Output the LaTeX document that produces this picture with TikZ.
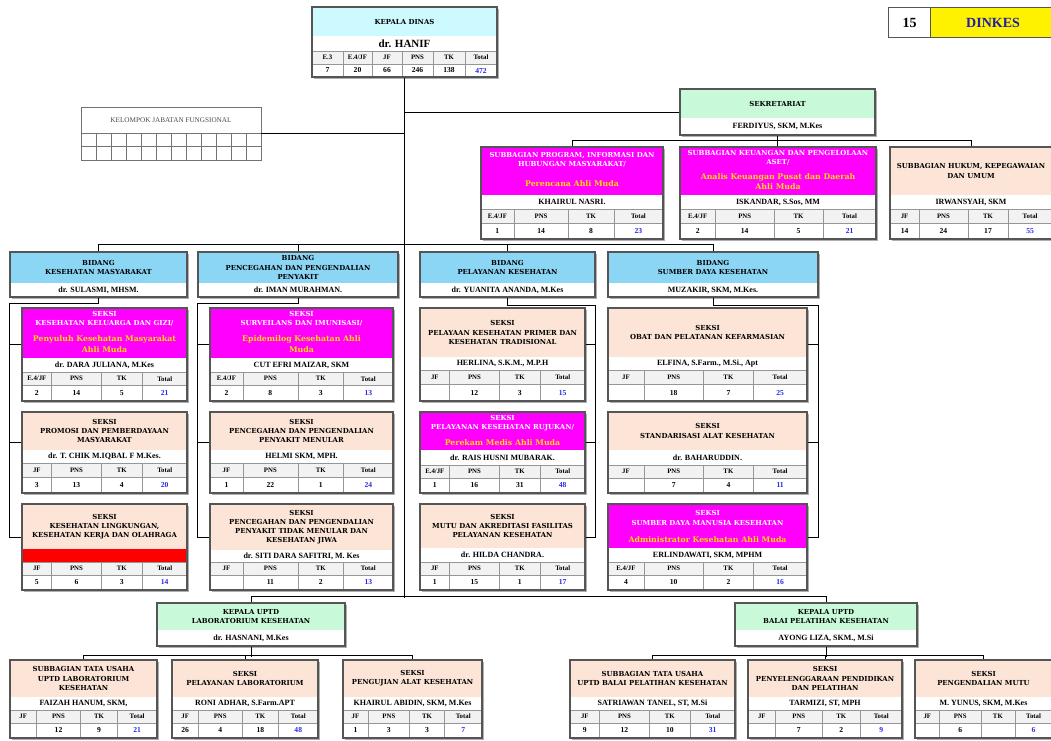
\documentclass[tikz,border=0pt]{standalone}
\usepackage{fontspec}
\newfontfamily\tf{DejaVu Serif}
\newfontfamily\nf{Liberation Serif}
\usetikzlibrary{fit}
\definecolor{mag}{RGB}{255,0,255}
\definecolor{peach}{RGB}{252,228,214}
\definecolor{bidblue}{RGB}{140,214,245}
\definecolor{kdcyan}{RGB}{204,250,255}
\definecolor{mint}{RGB}{200,250,218}
\definecolor{ylw}{RGB}{255,221,0}
\definecolor{numblue}{RGB}{40,40,235}
\definecolor{dkblue}{RGB}{30,30,170}
\definecolor{frm}{RGB}{85,85,85}
\definecolor{innr}{RGB}{150,150,150}
\definecolor{hdrc}{RGB}{242,242,242}
\definecolor{shadowc}{RGB}{175,175,175}
\newcounter{nn}
\tikzset{
 frame/.style={draw=frm, line width=1.1pt, inner sep=0pt, rectangle},
 inner/.style={draw=innr, line width=0.5pt},
 conn/.style={draw=black, line width=0.7pt},
 tt/.style={font=\tf\bfseries\fontsize{6.9}{9.2}\selectfont, align=center, inner sep=0pt},
 wt/.style={tt, text=white},
 yt/.style={font=\tf\bfseries\fontsize{7.8}{10.5}\selectfont, text=ylw, align=center, inner sep=0pt},
 nm/.style={font=\nf\bfseries\fontsize{8}{9}\selectfont, inner sep=0pt},
 th/.style={font=\nf\bfseries\fontsize{6.8}{7.5}\selectfont, inner sep=0pt},
 tv/.style={font=\nf\bfseries\fontsize{7.6}{8.5}\selectfont, inner sep=0pt},
}
\newcommand{\cell}[4]{\stepcounter{nn}\node[#3] (t\arabic{nn}) at ({#1},{#2}) {#4};}
\newcommand{\band}[5]{%
 \fill[#3] (\bxl,#1) rectangle (\bxr,#2);
 \draw[inner] (\bxl,#2) -- (\bxr,#2);
 \stepcounter{nn}%
 \node[#4] (t\arabic{nn}) at ({(\bxl+\bxr)/2},{(#1+#2)/2}) {#5};}
\newcommand{\tfour}[7]{%
 \pgfmathsetmacro\qYb{#1+0.46*(#2-#1)}%
 \pgfmathsetmacro\qW{\bxr-\bxl}%
 \pgfmathsetmacro\qXa{\bxl+0.18*\qW}%
 \pgfmathsetmacro\qXb{\bxl+0.48*\qW}%
 \pgfmathsetmacro\qXc{\bxl+0.73*\qW}%
 \pgfmathsetmacro\qHa{(#1+\qYb)/2}%
 \pgfmathsetmacro\qHb{(\qYb+#2)/2}%
 \fill[hdrc] (\bxl,#1) rectangle (\bxr,\qYb);
 \draw[inner] (\bxl,#1) -- (\bxr,#1) (\bxl,\qYb) -- (\bxr,\qYb) (\qXa,#1) -- (\qXa,#2) (\qXb,#1) -- (\qXb,#2) (\qXc,#1) -- (\qXc,#2);
 \cell{(\bxl+\qXa)/2}{\qHa}{th}{#3}%
 \cell{(\qXa+\qXb)/2}{\qHa}{th}{PNS}%
 \cell{(\qXb+\qXc)/2}{\qHa}{th}{TK}%
 \cell{(\qXc+\bxr)/2}{\qHa}{th}{Total}%
 \cell{(\bxl+\qXa)/2}{\qHb}{tv}{#4}%
 \cell{(\qXa+\qXb)/2}{\qHb}{tv}{#5}%
 \cell{(\qXb+\qXc)/2}{\qHb}{tv}{#6}%
 \cell{(\qXc+\bxr)/2}{\qHb}{tv,text=numblue}{#7}}
\newcommand{\bx}[6]{%
 \def\bxl{#2}\def\bxr{#4}%
 \fill[shadowc] ({#2+2},{#3+2}) rectangle ({#4+2},{#5+2});
 \fill[white] (#2,#3) rectangle (#4,#5);
 #6
 \node[frame, fit={(#2,#3) (#4,#5)}] (#1) {};}
\begin{document}
\begin{tikzpicture}[x=1pt,y=-1pt]
\clip (0,0) rectangle (1051,740);
\fill[white] (0,0) rectangle (1051,740);
% ---------- Kepala Dinas
\bx{kd}{312}{7}{497}{77}{%
 \band{7}{36}{kdcyan}{tt}{KEPALA DINAS}
 \band{36}{51}{white}{nm,font=\nf\bfseries\fontsize{11}{12}\selectfont}{dr. HANIF}
 \fill[hdrc] (312,51) rectangle (497,64);
 \draw[inner] (312,51) -- (497,51) (312,64) -- (497,64);
 \foreach \xx in {343,372,402,433,465} {\draw[inner] (\xx,51) -- (\xx,77);}
 \cell{327.5}{57.5}{th}{E.3}\cell{357.5}{57.5}{th}{E.4/JF}\cell{387}{57.5}{th}{JF}
 \cell{417.5}{57.5}{th}{PNS}\cell{449}{57.5}{th}{TK}\cell{481}{57.5}{th}{Total}
 \cell{327.5}{70.5}{tv}{7}\cell{357.5}{70.5}{tv}{20}\cell{387}{70.5}{tv}{66}
 \cell{417.5}{70.5}{tv}{246}\cell{449}{70.5}{tv}{138}\cell{481}{70.5}{tv,text=numblue}{472}
}
% ---------- 15 DINKES
\node[frame, fill=white, minimum width=42pt, minimum height=30pt, anchor=north west, font=\nf\bfseries\fontsize{14}{16}\selectfont] (num) at (888,7) {15};
\node[frame, fill=yellow, minimum width=125pt, minimum height=30pt, anchor=north west, text=dkblue, font=\nf\bfseries\fontsize{14}{16}\selectfont] (dk) at (930,7) {DINKES};
% ---------- Kelompok jabatan fungsional
\node[draw=black!55, line width=0.6pt, inner sep=0pt, fit={(81,107) (261,160)}] (kjf) {};
\node[font=\nf\fontsize{7.2}{8}\selectfont, text=black!70, inner sep=0pt] (kjft) at (171,120) {KELOMPOK JABATAN FUNGSIONAL};
\draw[draw=black!55, line width=0.5pt] (81,133) -- (261,133) (81,146.5) -- (261,146.5);
\foreach \i in {1,...,11} {\draw[draw=black!55, line width=0.5pt] ({81+15*\i},133) -- ({81+15*\i},160);}
% ---------- Sekretariat
\bx{sek}{680}{89}{875}{135}{%
 \band{89}{118}{mint}{tt}{SEKRETARIAT}
 \band{118}{135}{white}{nm}{FERDIYUS, SKM, M.Kes}}
\bx{sb1}{481}{147}{663}{239}{%
 \band{147}{172}{mag}{wt}{SUBBAGIAN PROGRAM, INFORMASI DAN\\HUBUNGAN MASYARAKAT/}
 \band{172}{195}{mag}{yt}{Perencana Ahli Muda}
 \band{195}{209}{white}{nm}{KHAIRUL NASRI.}
 \tfour{209}{239}{E.4/JF}{1}{14}{8}{23}}
\bx{sb2}{680}{147}{876}{239}{%
 \band{147}{168}{mag}{wt}{SUBBAGIAN KEUANGAN DAN PENGELOLAAN\\ASET/}
 \band{168}{195}{mag}{yt}{Analis Keuangan Pusat dan Daerah\\Ahli Muda}
 \band{195}{209}{white}{nm}{ISKANDAR, S.Sos, MM}
 \tfour{209}{239}{E.4/JF}{2}{14}{5}{21}}
\bx{sb3}{890}{147}{1052}{239}{%
 \band{147}{195}{peach}{tt}{SUBBAGIAN HUKUM, KEPEGAWAIAN\\DAN UMUM}
 \band{195}{209}{white}{nm}{IRWANSYAH, SKM}
 \tfour{209}{239}{JF}{14}{24}{17}{55}}
% ---------- Bidang
\bx{bd1}{10}{252}{187}{297}{%
 \band{252}{283}{bidblue}{tt}{BIDANG\\KESEHATAN MASYARAKAT}
 \band{283}{297}{white}{nm}{dr. SULASMI, MHSM.}}
\bx{bd2}{198}{252}{398}{297}{%
 \band{252}{283}{bidblue}{tt}{BIDANG\\PENCEGAHAN DAN PENGENDALIAN\\PENYAKIT}
 \band{283}{297}{white}{nm}{dr. IMAN MURAHMAN.}}
\bx{bd3}{420}{252}{595}{297}{%
 \band{252}{283}{bidblue}{tt}{BIDANG\\PELAYANAN KESEHATAN}
 \band{283}{297}{white}{nm}{dr. YUANITA ANANDA, M.Kes}}
\bx{bd4}{608}{252}{818}{297}{%
 \band{252}{283}{bidblue}{tt}{BIDANG\\SUMBER DAYA KESEHATAN}
 \band{283}{297}{white}{nm}{MUZAKIR, SKM, M.Kes.}}
% ---------- Seksi column 1
\bx{s11}{22}{308}{187}{401}{%
 \band{308}{330}{mag}{wt}{SEKSI\\KESEHATAN KELUARGA DAN GIZI/}
 \band{330}{358}{mag}{yt}{Penyuluh Kesehatan Masyarakat\\Ahli Muda}
 \band{358}{372}{white}{nm}{dr. DARA JULIANA, M.Kes}
 \tfour{372}{401}{E.4/JF}{2}{14}{5}{21}}
\bx{s12}{22}{412}{187}{493}{%
 \band{412}{450}{peach}{tt}{SEKSI\\PROMOSI DAN PEMBERDAYAAN\\MASYARAKAT}
 \band{450}{463}{white}{nm}{dr. T. CHIK M.IQBAL F M.Kes.}
 \tfour{463}{493}{JF}{3}{13}{4}{20}}
\bx{s13}{22}{504}{187}{590}{%
 \band{504}{549}{peach}{tt}{SEKSI\\KESEHATAN LINGKUNGAN,\\KESEHATAN KERJA DAN OLAHRAGA}
 \band{549}{562}{red}{tt}{}
 \tfour{562}{590}{JF}{5}{6}{3}{14}}
% ---------- Seksi column 2
\bx{s21}{210}{308}{393}{401}{%
 \band{308}{330}{mag}{wt}{SEKSI\\SURVEILANS DAN IMUNISASI/}
 \band{330}{358}{mag}{yt}{Epidemilog Kesehatan Ahli\\Muda}
 \band{358}{372}{white}{nm}{CUT EFRI MAIZAR, SKM}
 \tfour{372}{401}{E.4/JF}{2}{8}{3}{13}}
\bx{s22}{210}{412}{393}{493}{%
 \band{412}{450}{peach}{tt}{SEKSI\\PENCEGAHAN DAN PENGENDALIAN\\PENYAKIT MENULAR}
 \band{450}{463}{white}{nm}{HELMI SKM, MPH.}
 \tfour{463}{493}{JF}{1}{22}{1}{24}}
\bx{s23}{210}{504}{393}{590}{%
 \band{504}{550}{peach}{tt}{SEKSI\\PENCEGAHAN DAN PENGENDALIAN\\PENYAKIT TIDAK MENULAR DAN\\KESEHATAN JIWA}
 \band{550}{562}{white}{nm}{dr. SITI DARA SAFITRI, M. Kes}
 \tfour{562}{590}{JF}{}{11}{2}{13}}
% ---------- Seksi column 3
\bx{s31}{420}{308}{585}{401}{%
 \band{308}{357}{peach}{tt}{SEKSI\\PELAYAAN KESEHATAN PRIMER DAN\\KESEHATAN TRADISIONAL}
 \band{357}{370}{white}{nm}{HERLINA, S.K.M., M.P.H}
 \tfour{370}{401}{JF}{}{12}{3}{15}}
\bx{s32}{420}{412}{585}{493}{%
 \band{412}{435}{mag}{wt}{SEKSI\\PELAYANAN KESEHATAN RUJUKAN/}
 \band{435}{450}{mag}{yt}{Perekam Medis Ahli Muda}
 \band{450}{465}{white}{nm}{dr. RAIS HUSNI MUBARAK.}
 \tfour{465}{493}{E.4/JF}{1}{16}{31}{48}}
\bx{s33}{420}{504}{585}{590}{%
 \band{504}{548}{peach}{tt}{SEKSI\\MUTU DAN AKREDITASI FASILITAS\\PELAYANAN KESEHATAN}
 \band{548}{562}{white}{nm}{dr. HILDA CHANDRA.}
 \tfour{562}{590}{JF}{1}{15}{1}{17}}
% ---------- Seksi column 4
\bx{s41}{608}{308}{807}{401}{%
 \band{308}{357}{peach}{tt}{SEKSI\\OBAT DAN PELATANAN KEFARMASIAN}
 \band{357}{370}{white}{nm}{ELFINA, S.Farm., M.Si., Apt}
 \tfour{370}{401}{JF}{}{18}{7}{25}}
\bx{s42}{608}{412}{807}{493}{%
 \band{412}{450}{peach}{tt}{SEKSI\\STANDARISASI ALAT KESEHATAN}
 \band{450}{465}{white}{nm}{dr. BAHARUDDIN.}
 \tfour{465}{493}{JF}{}{7}{4}{11}}
\bx{s43}{608}{504}{807}{590}{%
 \band{504}{532}{mag}{wt}{SEKSI\\SUMBER DAYA MANUSIA KESEHATAN}
 \band{532}{548}{mag}{yt}{Administrator Kesehatan Ahli Muda}
 \band{548}{562}{white}{nm}{ERLINDAWATI, SKM, MPHM}
 \tfour{562}{590}{E.4/JF}{4}{10}{2}{16}}
% ---------- UPTD
\bx{ul}{157}{603}{345}{646}{%
 \band{603}{630}{mint}{tt}{KEPALA UPTD\\LABORATORIUM KESEHATAN}
 \band{630}{646}{white}{nm}{dr. HASNANI, M.Kes}}
\bx{ur}{735}{603}{917}{646}{%
 \band{603}{630}{mint}{tt}{KEPALA UPTD\\BALAI PELATIHAN KESEHATAN}
 \band{630}{646}{white}{nm}{AYONG LIZA, SKM., M.Si}}
\bx{u1}{10}{660}{157}{738}{%
 \band{660}{697}{peach}{tt}{SUBBAGIAN TATA USAHA\\UPTD LABORATORIUM\\KESEHATAN}
 \band{697}{710}{white}{nm}{FAIZAH HANUM, SKM,}
 \tfour{710}{738}{JF}{}{12}{9}{21}}
\bx{u2}{172}{660}{318}{738}{%
 \band{660}{697}{peach}{tt}{SEKSI\\PELAYANAN LABORATORIUM}
 \band{697}{710}{white}{nm}{RONI ADHAR, S.Farm.APT}
 \tfour{710}{738}{JF}{26}{4}{18}{48}}
\bx{u3}{343}{660}{482}{738}{%
 \band{660}{697}{peach}{tt}{SEKSI\\PENGUJIAN ALAT KESEHATAN}
 \band{697}{710}{white}{nm}{KHAIRUL ABIDIN, SKM, M.Kes}
 \tfour{710}{738}{JF}{1}{3}{3}{7}}
\bx{u4}{570}{660}{735}{738}{%
 \band{660}{697}{peach}{tt}{SUBBAGIAN TATA USAHA\\UPTD BALAI PELATIHAN KESEHATAN}
 \band{697}{710}{white}{nm}{SATRIAWAN TANEL, ST, M.Si}
 \tfour{710}{738}{JF}{9}{12}{10}{31}}
\bx{u5}{748}{660}{902}{738}{%
 \band{660}{697}{peach}{tt}{SEKSI\\PENYELENGGARAAN PENDIDIKAN\\DAN PELATIHAN}
 \band{697}{710}{white}{nm}{TARMIZI, ST, MPH}
 \tfour{710}{738}{JF}{}{7}{2}{9}}
\bx{u6}{915}{660}{1052}{738}{%
 \band{660}{697}{peach}{tt}{SEKSI\\PENGENDALIAN MUTU}
 \band{697}{710}{white}{nm}{M. YUNUS, SKM, M.Kes}
 \tfour{710}{738}{JF}{}{6}{}{6}}
% ---------- connectors
\draw[conn] (kd.south) -- ++(0,520);
\draw[conn] (kjf.east) -- (kjf.east -| kd.south);
\draw[conn] (sek.west -| kd.south) -- (sek.west);
\draw[conn] (sek.south) -- (sek.south |- sb2.north);
\draw[conn] (sb1.north) -- ++(0,-6) -| (sb3.north);
\draw[conn] (bd1.north) -- ++(0,-7) -| (bd4.north);
\draw[conn] (bd2.north) -- ++(0,-7);
\draw[conn] (bd3.north) -- ++(0,-7);
\foreach \b in {s11,s12,s13,s21,s22,s23} {\coordinate (\b c) at ([yshift=10pt]\b.west);}
\foreach \b in {s31,s32,s33,s41,s42,s43} {\coordinate (\b c) at ([yshift=10pt]\b.east);}
\draw[conn] (bd1.south) -- ++(0,6) -| (s13c -| bd1.west) -- (s13c);
\draw[conn] (s11c) -- (s11c -| bd1.west) (s12c) -- (s12c -| bd1.west);
\draw[conn] (bd2.south) -- ++(0,6) -| (s23c -| bd2.west) -- (s23c);
\draw[conn] (s21c) -- (s21c -| bd2.west) (s22c) -- (s22c -| bd2.west);
\draw[conn] (bd3.south) -- ++(0,8) -| (s33c -| bd3.east) -- (s33c);
\draw[conn] (s31c) -- (s31c -| bd3.east) (s32c) -- (s32c -| bd3.east);
\draw[conn] (bd4.south) -- ++(0,8) -| (s43c -| bd4.east) -- (s43c);
\draw[conn] (s41c) -- (s41c -| bd4.east) (s42c) -- (s42c -| bd4.east);
\draw[conn] (ul.north) -- ++(0,-6) -| (ur.north);
\draw[conn] (ul.south) -- ++(0,10);
\draw[conn] (u1.north) -- ++(0,-4) -| (u3.north);
\draw[conn] (u2.north) -- ++(0,-4);
\draw[conn] (ur.south) -- ++(0,10);
\draw[conn] (u4.north) -- ++(0,-4) -| (u6.north);
\draw[conn] (u5.north) -- ++(0,-4);
\end{tikzpicture}
\end{document}
